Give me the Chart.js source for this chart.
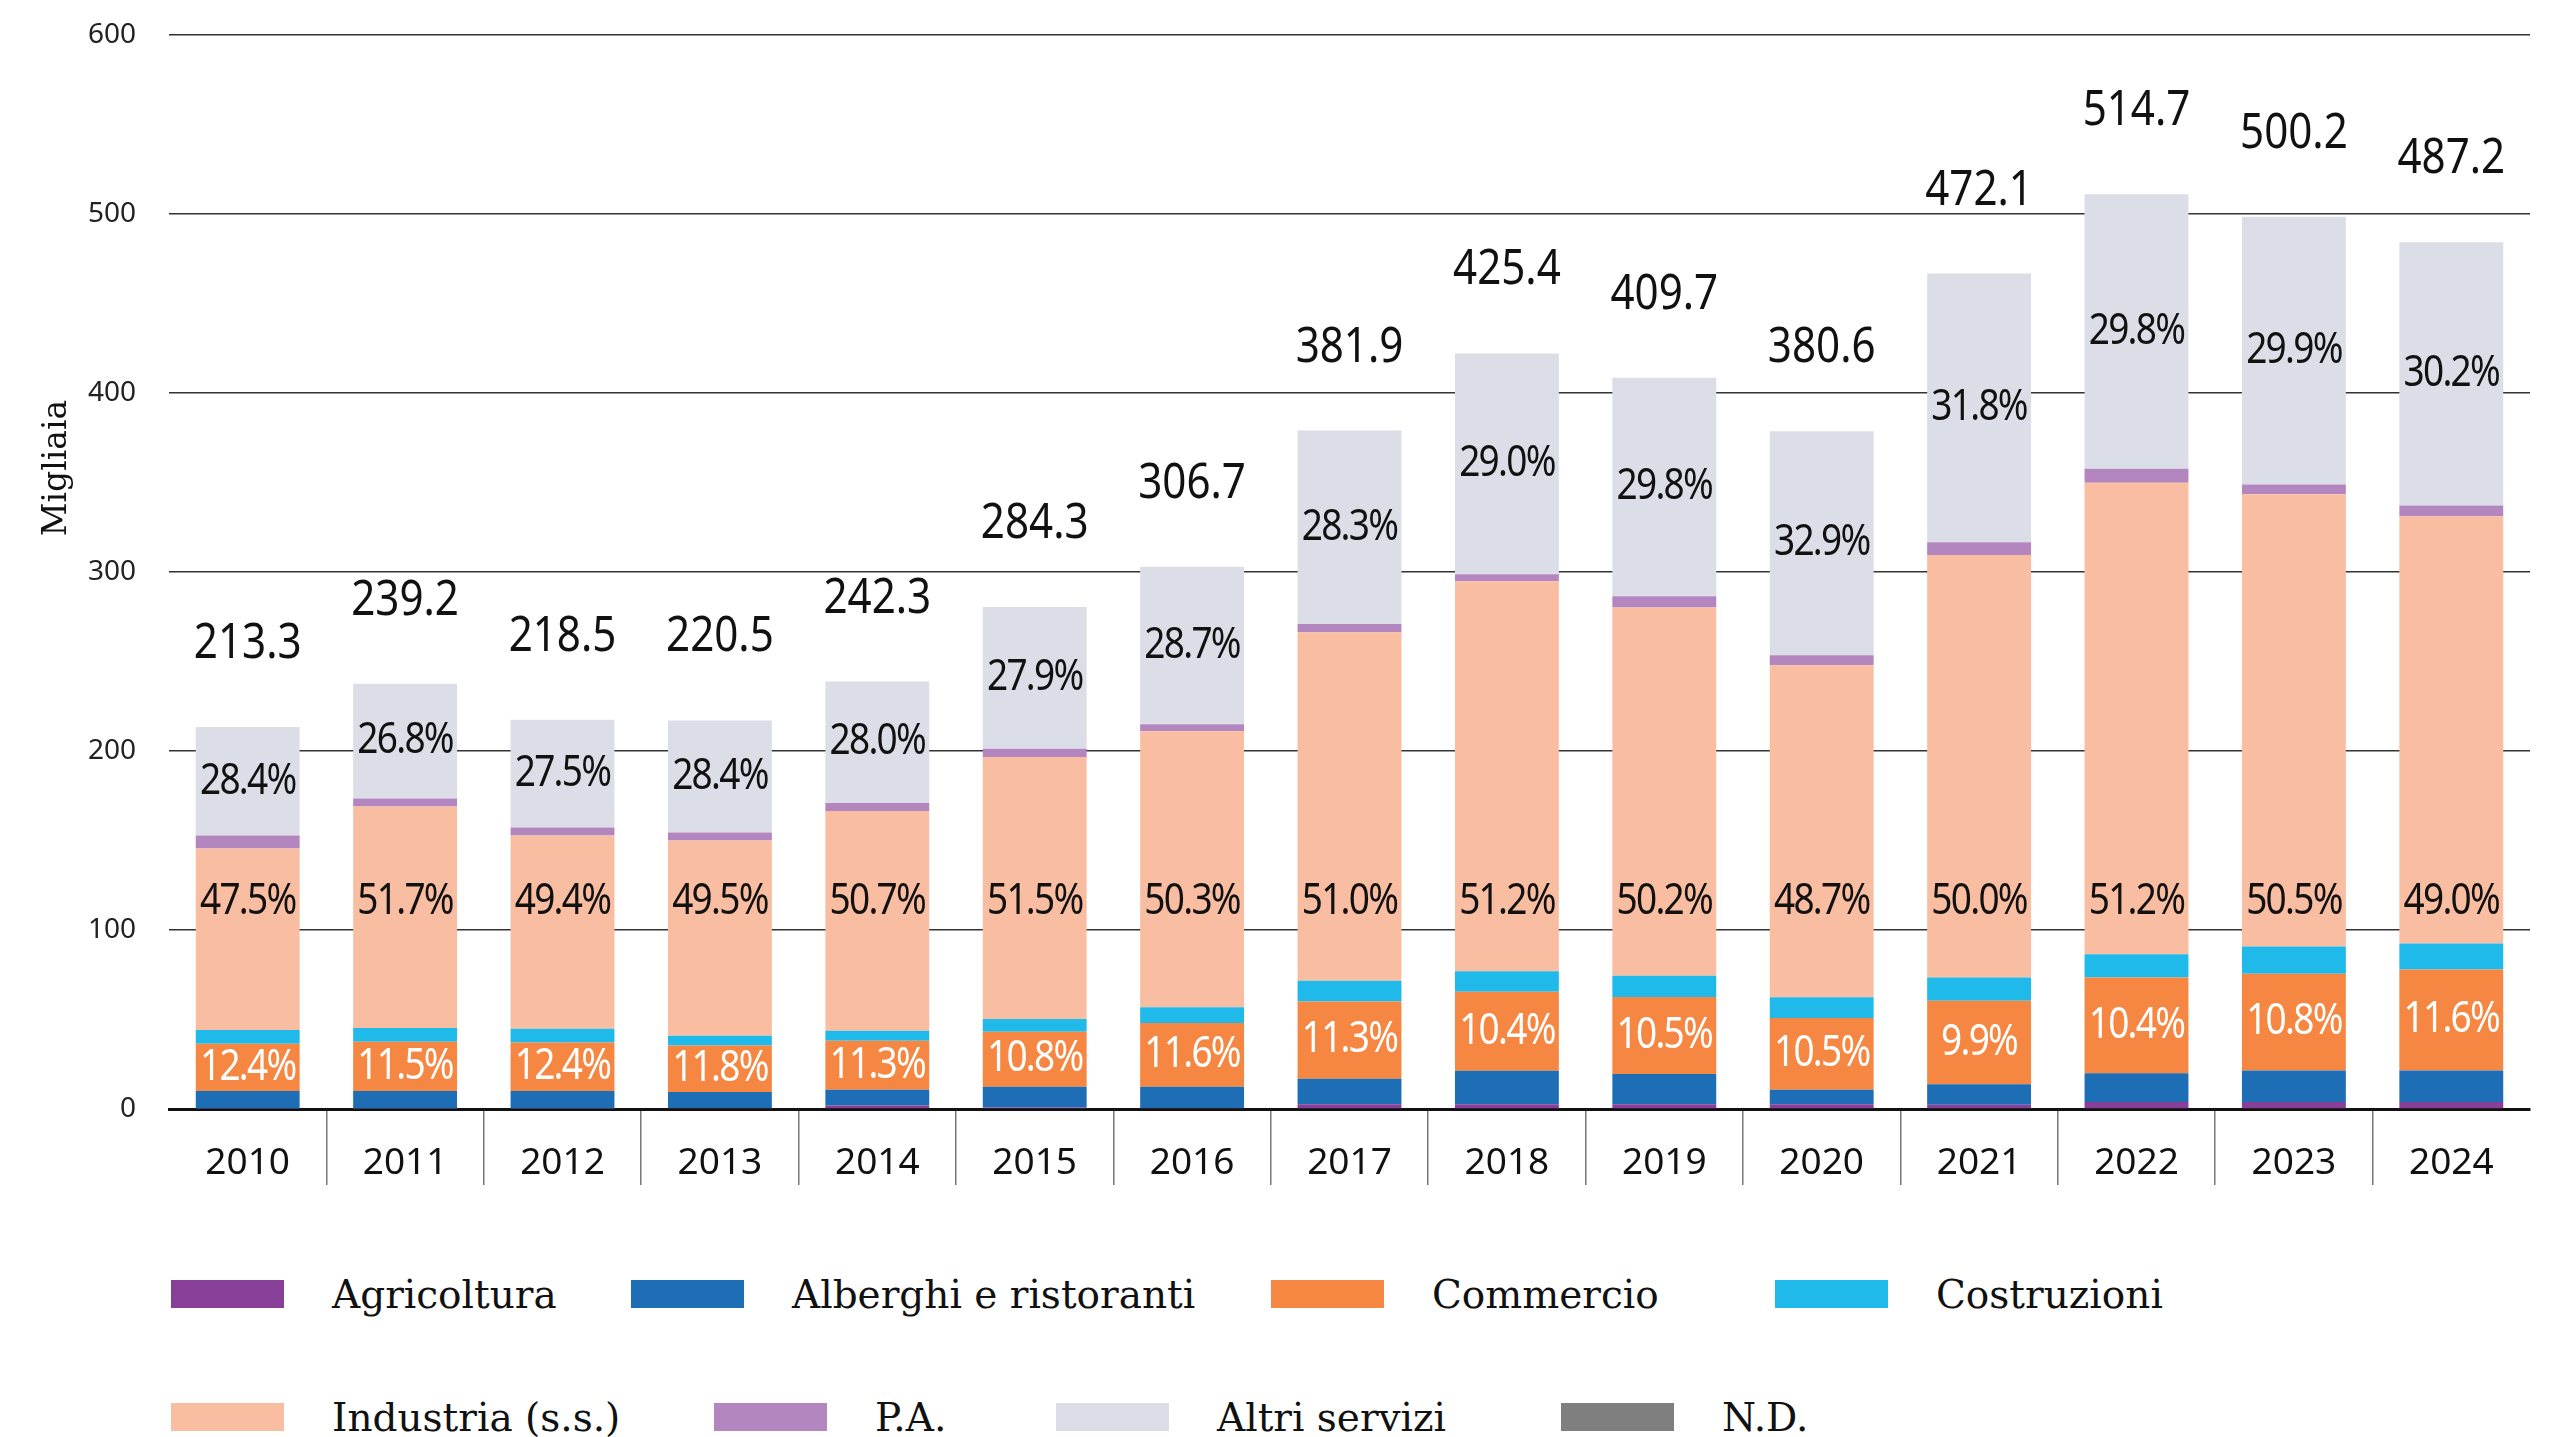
<!DOCTYPE html>
<html lang="it">
<head>
<meta charset="utf-8">
<title>Occupati per settore</title>
<script src="https://cdn.jsdelivr.net/npm/chart.js@4.4.1/dist/chart.umd.min.js"></script>
<style>
  body { margin: 0; background: #fff; }
  #wrap { position: relative; width: 2555px; height: 1437px; }
  #chart-box { position: absolute; left: 0; top: 0; width: 2555px; height: 1200px; }
  .legend-item { position: absolute; height: 40px; display: flex; align-items: center;
                 font-family: "DejaVu Serif", serif; font-size: 39px; color: #111; white-space: nowrap; }
  .legend-item span.sw { display: inline-block; width: 113px; height: 28px; margin-right: 48px; }
</style>
</head>
<body>
<div id="wrap">
  <div id="chart-box"><canvas id="chart" width="2555" height="1200"></canvas></div>
  <div id="legend"></div>
</div>
<script>
// Categories
const years = ['2010', '2011', '2012', '2013', '2014', '2015', '2016', '2017', '2018', '2019', '2020', '2021', '2022', '2023', '2024'];

// Totals (migliaia) shown above each bar
const totals = [213.3, 239.2, 218.5, 220.5, 242.3, 284.3, 306.7, 381.9, 425.4, 409.7, 380.6, 472.1, 514.7, 500.2, 487.2];

// Shares printed inside the bars (%)
const pctCommercio = [12.4, 11.5, 12.4, 11.8, 11.3, 10.8, 11.6, 11.3, 10.4, 10.5, 10.5, 9.9, 10.4, 10.8, 11.6];
const pctIndustria = [47.5, 51.7, 49.4, 49.5, 50.7, 51.5, 50.3, 51.0, 51.2, 50.2, 48.7, 50.0, 51.2, 50.5, 49.0];
const pctAltri = [28.4, 26.8, 27.5, 28.4, 28.0, 27.9, 28.7, 28.3, 29.0, 29.8, 32.9, 31.8, 29.8, 29.9, 30.2];

// Series values (migliaia)
const agricoltura = [0.3, 0.3, 0.3, 0.5, 1.9, 0.8, 0.5, 2.7, 2.7, 2.7, 2.7, 2.4, 3.9, 3.9, 3.9];
const alberghi = [9.8, 9.8, 9.8, 9.0, 8.8, 11.7, 11.9, 14.2, 18.6, 16.9, 8.1, 11.4, 16.1, 17.6, 17.6];
const commercio = [26.4, 27.5, 27.1, 26.0, 27.4, 30.7, 35.6, 43.2, 44.2, 43.0, 40.0, 46.7, 53.5, 54.0, 56.5];
const costruzioni = [7.7, 7.7, 7.7, 5.4, 5.6, 7.1, 8.8, 11.5, 11.5, 11.9, 11.7, 12.9, 12.9, 15.3, 14.5];
const industria = [101.3, 123.7, 107.9, 109.1, 122.8, 146.4, 154.3, 194.8, 217.8, 205.7, 185.4, 236.1, 263.5, 252.6, 238.7];
const pa = [7.3, 4.5, 4.5, 4.5, 4.5, 4.5, 3.9, 4.5, 3.9, 6.2, 5.6, 7.1, 7.8, 5.5, 5.9];
const altriServizi = [60.6, 64.1, 60.1, 62.6, 67.8, 79.3, 88.0, 108.1, 123.4, 122.1, 125.2, 150.1, 153.4, 149.6, 147.1];
const nd = [0, 0, 0, 0, 0, 0, 0, 0, 0, 0, 0, 0, 0, 0, 0];

// Y axis ticks
const yTicks = [0, 100, 200, 300, 400, 500, 600];

const series = [
  { name: 'Agricoltura', values: agricoltura, color: '#873f98' },
  { name: 'Alberghi e ristoranti', values: alberghi, color: '#1d6eb4' },
  { name: 'Commercio', values: commercio, color: '#f68742' },
  { name: 'Costruzioni', values: costruzioni, color: '#20baea' },
  { name: 'Industria (s.s.)', values: industria, color: '#f9bda1' },
  { name: 'P.A.', values: pa, color: '#b386c0' },
  { name: 'Altri servizi', values: altriServizi, color: '#dcdee7' },
  { name: 'N.D.', values: nd, color: '#7f7f7f' }
];

// Legend layout: two rows of four, left edge of each item
const legendRows = [
  { center: 1294, items: [[0, 171], [1, 631], [2, 1271], [3, 1775]] },
  { center: 1417, items: [[4, 171], [5, 714], [6, 1056], [7, 1561]] }
];

const INDUSTRIA_LABEL_AT = 116; // the Industria shares all sit on one line

function fmtPct(v) {
  return v.toFixed(1) + '%';
}

// Draw a condensed text centred on (x, y)
function drawText(ctx, text, x, y, size, color, spacing) {
  ctx.save();
  ctx.translate(x, y);
  ctx.scale(0.86, 1);
  ctx.font = size + 'px "Noto Sans"';
  ctx.fillStyle = color;
  ctx.textAlign = 'center';
  ctx.textBaseline = 'middle';
  ctx.letterSpacing = spacing + 'px';
  ctx.fillText(text, 0, 0);
  ctx.restore();
}

// Plugin for the totals, the percentages inside the bars and the axis title
const barLabels = {
  id: 'barLabels',
  afterDatasetsDraw(chart) {
    const ctx = chart.ctx;
    const yScale = chart.scales.y;
    const commMeta = chart.getDatasetMeta(2);
    const altriMeta = chart.getDatasetMeta(6);
    const topMeta = chart.getDatasetMeta(7);

    years.forEach((yr, i) => {
      const c = commMeta.data[i];
      drawText(ctx, fmtPct(pctCommercio[i]), c.x, (c.y + c.base) / 2, 43, '#ffffff', -2);

      drawText(ctx, fmtPct(pctIndustria[i]), c.x, yScale.getPixelForValue(INDUSTRIA_LABEL_AT), 43, '#111111', -2);

      const a = altriMeta.data[i];
      drawText(ctx, fmtPct(pctAltri[i]), a.x, (a.y + a.base) / 2, 43, '#111111', -2);

      const t = topMeta.data[i];
      drawText(ctx, totals[i].toFixed(1), t.x, t.y - 83, 49, '#111111', 0);
    });

    // y axis title, set higher than the middle of the axis
    ctx.save();
    ctx.translate(57, 468);
    ctx.rotate(-Math.PI / 2);
    ctx.font = '33px "DejaVu Serif"';
    ctx.fillStyle = '#111111';
    ctx.textAlign = 'center';
    ctx.textBaseline = 'middle';
    ctx.fillText('Migliaia', 0, 0);
    ctx.restore();
  }
};

function buildLegend() {
  const box = document.getElementById('legend');
  legendRows.forEach(row => {
    row.items.forEach(([idx, left]) => {
      const s = series[idx];
      const item = document.createElement('div');
      item.className = 'legend-item';
      item.style.left = left + 'px';
      item.style.top = (row.center - 20) + 'px';
      const sw = document.createElement('span');
      sw.className = 'sw';
      sw.style.background = s.color;
      item.appendChild(sw);
      item.appendChild(document.createTextNode(s.name));
      box.appendChild(item);
    });
  });
}

function drawChart() {
  const ctx = document.getElementById('chart').getContext('2d');
  new Chart(ctx, {
    type: 'bar',
    data: {
      labels: years,
      datasets: series.map(s => ({
        label: s.name,
        data: s.values,
        backgroundColor: s.color,
        borderWidth: 0,
        categoryPercentage: 1,
        barPercentage: 0.66
      }))
    },
    options: {
      responsive: false,
      animation: false,
      devicePixelRatio: 1,
      layout: { padding: { top: 35, right: 25, bottom: 15, left: 20 } },
      plugins: {
        legend: { display: false },
        tooltip: { enabled: false }
      },
      scales: {
        x: {
          stacked: true,
          grid: {
            offset: true,
            drawOnChartArea: false,
            drawTicks: true,
            tickLength: 76,
            lineWidth: 1.5,
            color: c => (c.index === undefined || c.index === 0) ? 'rgba(0,0,0,0)' : '#777777'
          },
          border: { display: true, color: '#111111', width: 3 },
          ticks: {
            font: { family: 'Noto Sans', size: 37 },
            color: '#111111',
            padding: -44,
            maxRotation: 0
          },
          afterFit: s => { s.height = 76; }
        },
        y: {
          stacked: true,
          min: 0,
          max: 600,
          afterBuildTicks: s => { s.ticks = yTicks.map(v => ({ value: v })); },
          grid: {
            drawTicks: false,
            lineWidth: 1.5,
            color: '#333333'
          },
          border: { display: false },
          ticks: {
            font: { family: 'Noto Sans', size: 28 },
            color: '#222222',
            padding: 33
          },
          afterFit: s => {
            s.width = 149;
            s.paddingTop = 0;
            s.paddingBottom = 0;
          }
        }
      }
    },
    plugins: [barLabels]
  });
}

buildLegend();
drawChart();
</script>
</body>
</html>
